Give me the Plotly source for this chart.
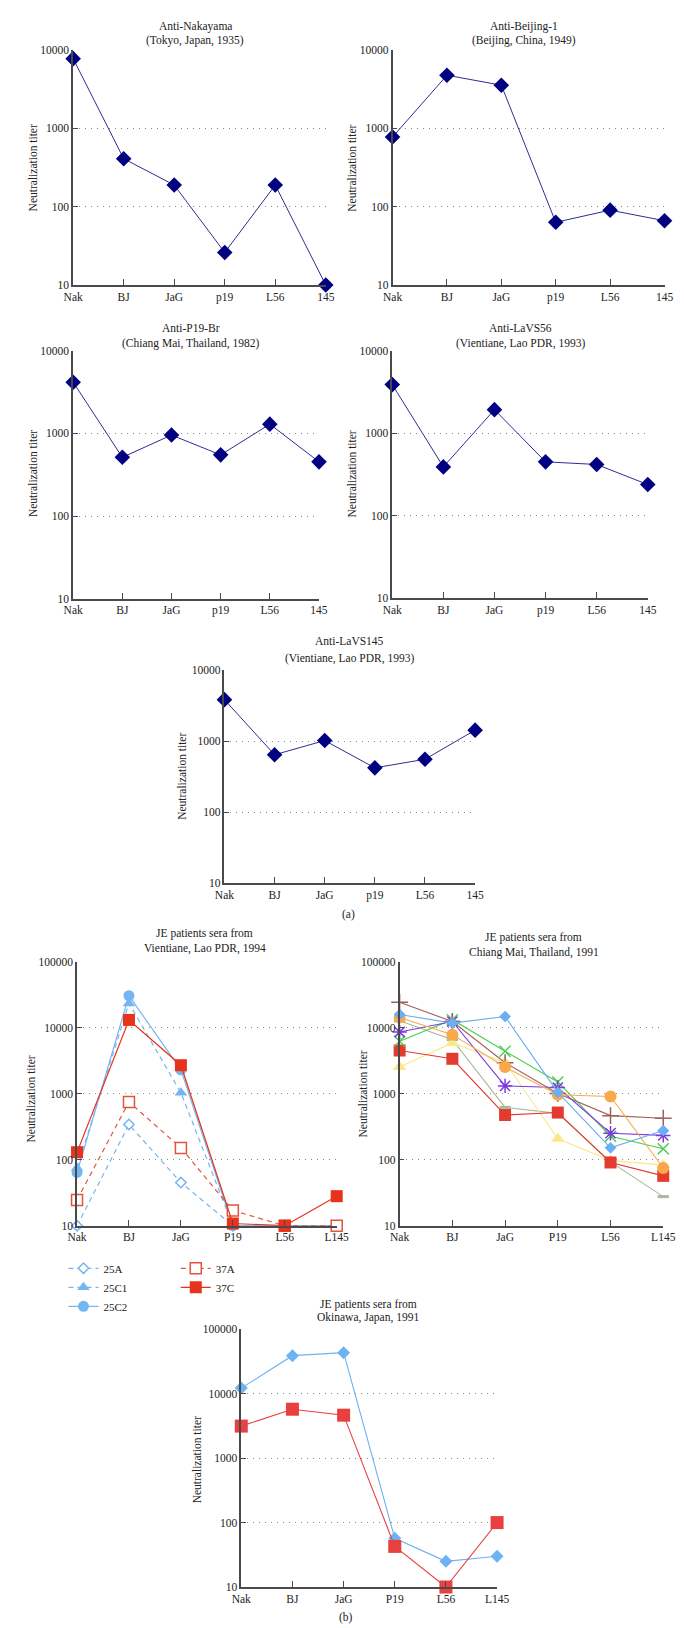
import plotly.graph_objects as go

W, H = 684, 1628

# ---------------- data ----------------
top_categories = ["Nak", "BJ", "JaG", "p19", "L56", "145"]
bottom_categories = ["Nak", "BJ", "JaG", "P19", "L56", "L145"]

anti_nakayama = [7700, 408, 188, 26, 188, 10]
anti_beijing1 = [770, 4730, 3530, 63, 90, 66]
anti_p19br = [4170, 514, 955, 550, 1294, 453]
anti_lavs56 = [3890, 390, 1930, 449, 417, 238]
anti_lavs145 = [3840, 644, 1020, 421, 556, 1430]

vientiane_25A = [10, 342, 45, 10, 10, 10]
vientiane_25C1 = [75, 23300, 1035, 10, 10, 10]
vientiane_25C2 = [64, 30500, 2300, 10, 10, 10]
vientiane_37A = [24.6, 750, 151, 17, 10, 10]
vientiane_37C = [130, 13100, 2700, 10.8, 10, 28]

cm_blue_diamond = [16000, 11800, 14900, 1050, 152, 278]
cm_orange_circle = [14400, 7900, 2550, 966, 912, 75]
cm_brown_plus = [24400, 12500, 2960, 1010, 467, 426]
cm_purple_star = [8650, 12500, 1320, 1245, 253, 234]
cm_green_x = [6270, 13300, 4430, 1515, 228, 147]
cm_gray_dash = [12800, 6640, 623, 506, 93, 27.6]
cm_red_square = [4540, 3400, 478, 520, 91, 57]
cm_yellow_triangle = [2550, 5910, 3000, 208, 98, 83]

ok_blue = [12200, 38900, 43300, 57, 25, 30]
ok_red = [3140, 5740, 4640, 42.7, 10, 100]

top_ticks = [10, 100, 1000, 10000]
bottom_ticks = [10, 100, 1000, 10000, 100000]

# ---------------- styling ----------------
FONT = "Liberation Serif"
AX = "#4a4a4a"
NAVY = "#000080"
NAVY_LINE = "#2d2d90"
LBLUE = "#74b6f2"
RED = "#e8321c"

fig = go.Figure()


def xd(px):
    return px / W


def yd(py):
    return 1 - py / H


# panel geometry: (x_left, x_right, y_top, y_bottom) in px
panels = {
    1: (57, 318, 36, 273),
    2: (387, 668, 36, 273),
    3: (57, 311, 339.3, 589),
    4: (386.7, 650.7, 339.3, 588.3),
    5: (213.3, 472.3, 661, 875.7),
    6: (61, 329.3, 954.7, 1220.7),
    7: (394.3, 666.7, 955, 1220.7),
    8: (230.7, 495, 1325, 1584.7),
}

layout_axes = {}
for i, (x0, x1, y0, y1) in panels.items():
    top = i <= 5
    cats = top_categories if top else bottom_categories
    ticks = top_ticks if top else bottom_ticks
    sfx = "" if i == 1 else str(i)
    layout_axes["xaxis" + sfx] = dict(
        domain=[xd(x0), xd(x1)], anchor="y" + sfx,
        type="category", categoryorder="array", categoryarray=cats,
        range=[0, 5], showgrid=False, zeroline=False,
        showline=True, linecolor=AX, linewidth=1.5,
        ticks="inside", ticklen=6, tickcolor=AX, tickwidth=1.2,
        tickfont=dict(family=FONT, size=11.5, color="#222"),
    )
    layout_axes["yaxis" + sfx] = dict(
        domain=[yd(y1), yd(y0)], anchor="x" + sfx,
        type="log", range=[1, 4] if top else [1, 5],
        tickvals=ticks, ticktext=[str(t) for t in ticks],
        showgrid=True, gridcolor="#8a8a8a", griddash="1px,5px", gridwidth=1,
        zeroline=False, showline=True, linecolor=AX, linewidth=1.5,
        ticks="inside", ticklen=5, tickcolor=AX, tickwidth=1.2,
        tickfont=dict(family=FONT, size=11.5, color="#222"),
    )


def ax(i):
    return ("x", "y") if i == 1 else ("x%d" % i, "y%d" % i)


# ---- top single-series panels ----
for i, vals in zip([1, 2, 3, 4, 5],
                   [anti_nakayama, anti_beijing1, anti_p19br, anti_lavs56, anti_lavs145]):
    xa, ya = ax(i)
    fig.add_trace(go.Scatter(
        x=top_categories, y=vals, xaxis=xa, yaxis=ya, mode="lines+markers",
        line=dict(color=NAVY_LINE, width=1),
        marker=dict(symbol="diamond", size=12, color=NAVY),
        cliponaxis=False, showlegend=False))

# ---- Vientiane panel ----
xa, ya = ax(6)
DASH = "5px,4px"
vient = [
    ("25A", vientiane_25A, LBLUE, DASH, "diamond", 8, True, "legend"),
    ("25C1", vientiane_25C1, LBLUE, DASH, "triangle-up", 11, False, "legend"),
    ("25C2", vientiane_25C2, LBLUE, "solid", "circle", 11, False, "legend"),
    ("37A", vientiane_37A, "#e0553c", DASH, "square", 11, True, "legend2"),
    ("37C", vientiane_37C, RED, "solid", "square", 12, False, "legend2"),
]
for name, vals, col, dash, sym, sz, hollow, lg in vient:
    fig.add_trace(go.Scatter(
        x=bottom_categories, y=vals, xaxis=xa, yaxis=ya, mode="lines+markers",
        name=name, legend=lg,
        line=dict(color=col, width=1.2, dash=dash),
        marker=dict(symbol=sym, size=sz, color="white" if hollow else col,
                    line=dict(color=col, width=1.5 if hollow else 0)),
        cliponaxis=False, showlegend=True))

# ---- Chiang Mai panel ----
xa, ya = ax(7)
cm = [
    (cm_gray_dash, "#a9b898", "line-ew-open", 8, 3),
    (cm_yellow_triangle, "#fbe88a", "triangle-up", 12, 0),
    (cm_red_square, "#e33b30", "square", 12, 0),
    (cm_green_x, "#4ccf4c", "x-thin-open", 11, 1.5),
    (cm_purple_star, "#7a3ae0", "asterisk-open", 12, 1.5),
    (cm_brown_plus, "#a0605c", "cross-thin-open", 12, 1.5),
    (cm_orange_circle, "#f9a94c", "circle", 12, 0),
    (cm_blue_diamond, "#69aff2", "diamond", 9, 0),
]
for vals, col, sym, sz, lw in cm:
    fig.add_trace(go.Scatter(
        x=bottom_categories, y=vals, xaxis=xa, yaxis=ya, mode="lines+markers",
        line=dict(color=col, width=1.1),
        marker=dict(symbol=sym, size=sz, color=col, line=dict(color=col, width=lw)),
        cliponaxis=False, showlegend=False))

# ---- Okinawa panel ----
xa, ya = ax(8)
fig.add_trace(go.Scatter(
    x=bottom_categories, y=ok_blue, xaxis=xa, yaxis=ya, mode="lines+markers",
    line=dict(color="#6db2f2", width=1.1),
    marker=dict(symbol="diamond", size=10, color="#6db2f2"),
    cliponaxis=False, showlegend=False))
fig.add_trace(go.Scatter(
    x=bottom_categories, y=ok_red, xaxis=xa, yaxis=ya, mode="lines+markers",
    line=dict(color="#e84040", width=1.1),
    marker=dict(symbol="square", size=13, color="#e84040"),
    cliponaxis=False, showlegend=False))

# ---------------- annotations ----------------
titles = [
    (183, 13, "Anti-Nakayama"), (183, 27, "(Tokyo, Japan, 1935)"),
    (523, 13, "Anti-Beijing-1"), (523, 27, "(Beijing, China, 1949)"),
    (179, 316.5, "Anti-P19-Br"), (179, 331.5, "(Chiang Mai, Thailand, 1982)"),
    (519, 316.5, "Anti-LaVS56"), (519, 331.5, "(Vientiane, Lao PDR, 1993)"),
    (342, 632, "Anti-LaVS145"), (342, 649, "(Vientiane, Lao PDR, 1993)"),
    (341, 907, "(a)"),
    (193, 926.5, "JE patients sera from"), (193, 941.5, "Vientiane, Lao PDR, 1994"),
    (533, 930.5, "JE patients sera from"), (533, 945, "Chiang Mai, Thailand, 1991"),
    (362, 1300, "JE patients sera from"), (362, 1313.5, "Okinawa, Japan, 1991"),
    (339, 1615.5, "(b)"),
]
annotations = []
for px, py, txt in titles:
    annotations.append(dict(
        x=xd(px), y=yd(py), xref="paper", yref="paper", text=txt, showarrow=False,
        xanchor="center", yanchor="middle",
        font=dict(family=FONT, size=11.5, color="#222")))

ytitles = [(15, 155), (345, 155), (15, 463), (345, 463), (170, 768),
           (13, 1093), (356, 1088), (185, 1457)]
for px, py in ytitles:
    annotations.append(dict(
        x=xd(px), y=yd(py), xref="paper", yref="paper", text="Neutralization titer",
        showarrow=False, textangle=-90, xanchor="center", yanchor="middle",
        font=dict(family=FONT, size=11.5, color="#222")))

legend_style = dict(
    font=dict(family=FONT, size=11, color="#222"), bgcolor="rgba(0,0,0,0)",
    xref="paper", yref="paper", xanchor="left", yanchor="top",
    itemwidth=30, tracegroupgap=0,
)

fig.update_layout(
    width=W, height=H, margin=dict(l=0, r=0, t=0, b=0),
    paper_bgcolor="white", plot_bgcolor="white",
    annotations=annotations,
    legend=dict(x=xd(47), y=yd(1249), **legend_style),
    legend2=dict(x=xd(163), y=yd(1249), **legend_style),
    **layout_axes,
)

fig.write_html("out.html")
